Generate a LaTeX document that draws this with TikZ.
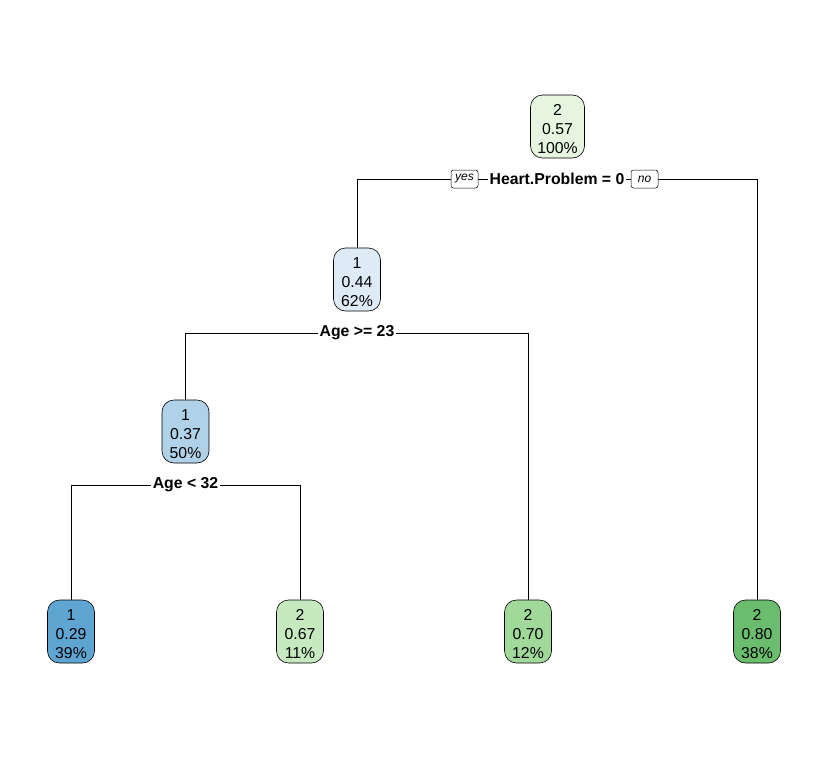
\documentclass[tikz,border=0pt]{standalone}
\usepackage{fontspec}
\setmainfont{Liberation Sans}
\begin{document}
\begin{tikzpicture}[x=1pt,y=-1pt,
  tnode/.style={draw=black, line width=0.6pt, rounded corners=12pt, minimum width=47pt, minimum height=63pt, inner sep=0pt, align=center, font=\fontsize{15.8}{19}\selectfont},
  ttext/.style={inner sep=0pt, align=center, yshift=-2.5pt, font=\fontsize{15.8}{19}\selectfont},
  splitlab/.style={fill=white, inner sep=1.5pt, font=\fontsize{15.8}{18}\selectfont\bfseries},
  yn/.style={draw=black, fill=white, rounded corners=2.5pt, line width=0.5pt, inner sep=1.5pt, minimum width=27pt, minimum height=18pt, font=\fontsize{12}{14}\selectfont\itshape},
  conn/.style={line width=0.8pt}]
\useasboundingbox (0,0) rectangle (829,760);
\definecolor{c0}{HTML}{E5F5E0}
\definecolor{c1}{HTML}{DEEBF7}
\definecolor{c2}{HTML}{B0D2E8}
\definecolor{c3}{HTML}{5EA5D1}
\definecolor{c4}{HTML}{C7E9C0}
\definecolor{c5}{HTML}{A1D99B}
\definecolor{c6}{HTML}{69BD6D}
\coordinate (s1) at (557,179);
\coordinate (s2) at (357,333);
\coordinate (s3) at (185.5,485);
\node[tnode, fill=c0, minimum width=54pt] (n1) at (557.5,126.5) {};
\node[tnode, fill=c1] (n2) at (357,279.5) {};
\node[tnode, fill=c2] (n3) at (185.5,431.5) {};
\node[tnode, fill=c3] (l1) at (71,631.5) {};
\node[tnode, fill=c4] (l2) at (300,631.5) {};
\node[tnode, fill=c5] (l3) at (528,631.5) {};
\node[tnode, fill=c6] (l4) at (757,631.5) {};
\draw[conn] (s1) -| (n2.north);
\draw[conn] (s1) -| (l4.north);
\draw[conn] (s2) -| (n3.north);
\draw[conn] (s2) -| (l3.north);
\draw[conn] (s3) -| (l1.north);
\draw[conn] (s3) -| (l2.north);
\node[ttext] (x1) at (n1) {2\\0.57\\100\%};
\node[ttext] (x2) at (n2) {1\\0.44\\62\%};
\node[ttext] (x3) at (n3) {1\\0.37\\50\%};
\node[ttext] (x4) at (l1) {1\\0.29\\39\%};
\node[ttext] (x5) at (l2) {2\\0.67\\11\%};
\node[ttext] (x6) at (l3) {2\\0.70\\12\%};
\node[ttext] (x7) at (l4) {2\\0.80\\38\%};
\node[splitlab] (t1) at (s1) {Heart.Problem = 0};
\node[splitlab] (t2) at (s2) {Age >= 23};
\node[splitlab] (t3) at (s3) {Age < 32};
\node[yn] (yes) at (464.5,179) {yes};
\node[yn] (no) at (644.5,179) {no};
\end{tikzpicture}
\end{document}
